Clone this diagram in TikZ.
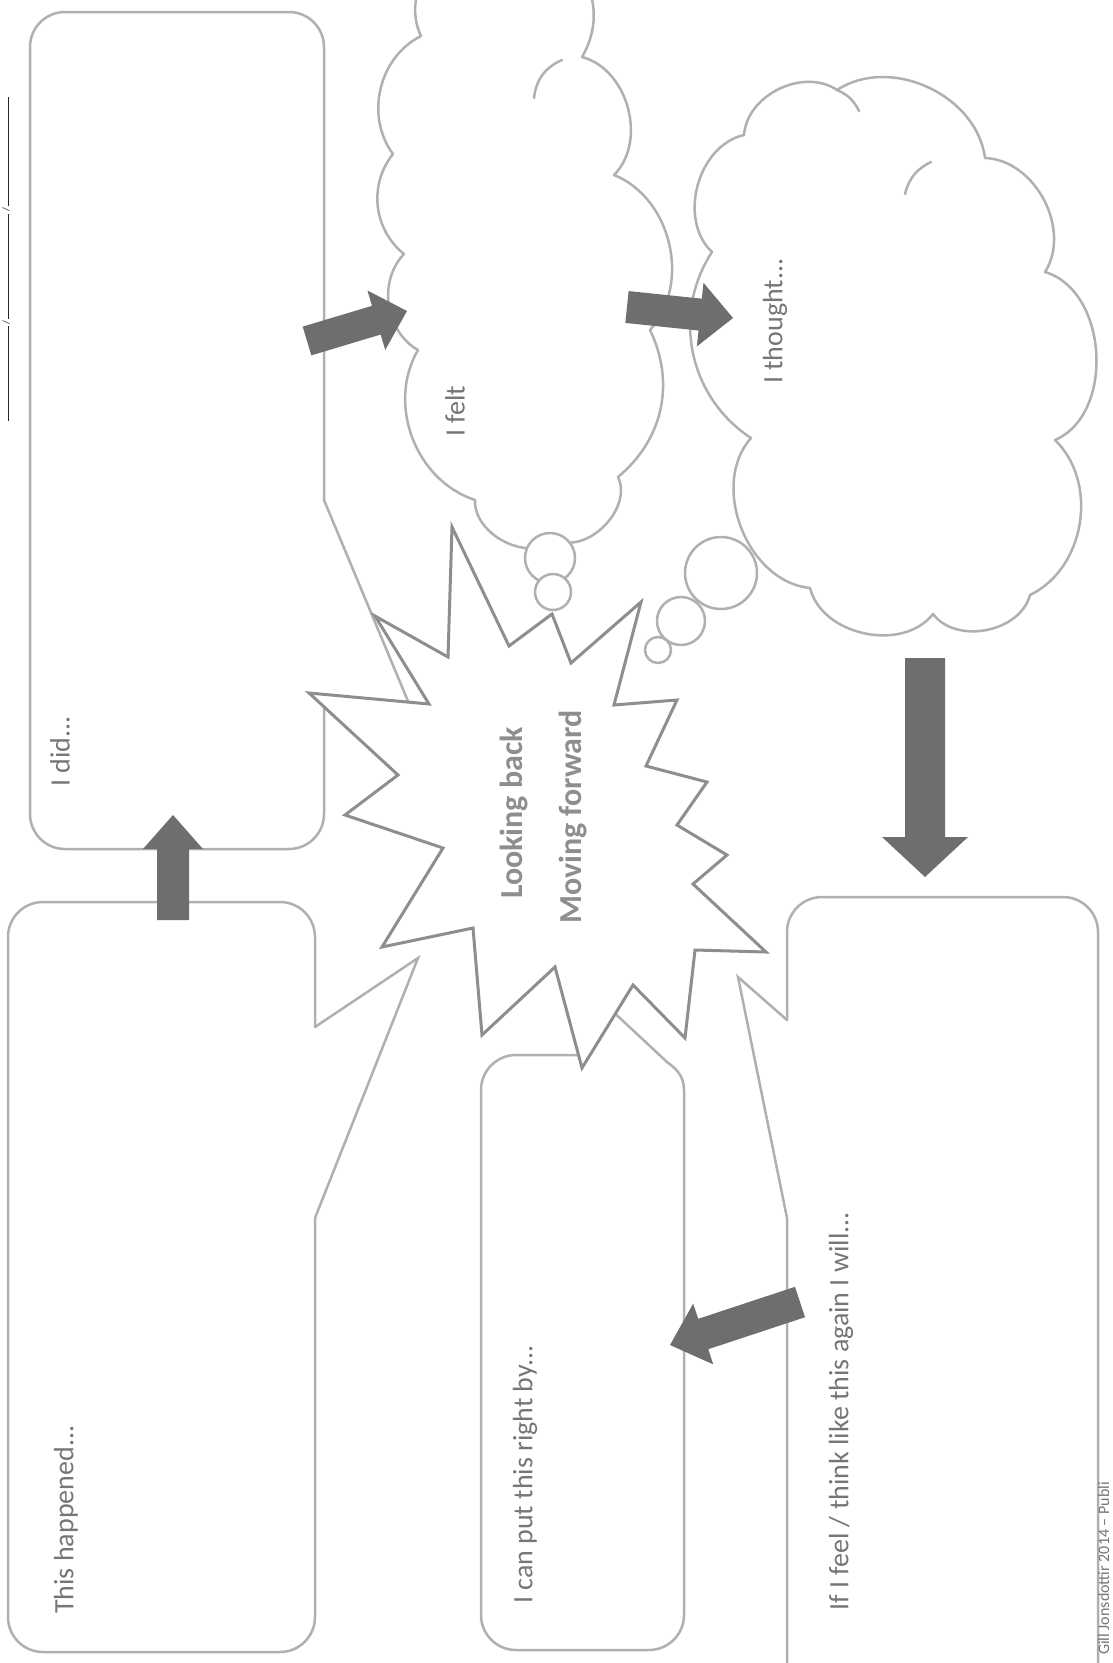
\documentclass[tikz,border=0pt]{standalone}
\usepackage{fontspec}
\setmainfont{Carlito}
\usetikzlibrary{calc}
\definecolor{lineGrey}{HTML}{B0B0B0}
\definecolor{burstGrey}{HTML}{8E8E8E}
\definecolor{textGrey}{HTML}{767676}
\definecolor{arrowGrey}{HTML}{6E6E6E}
\tikzset{
  box/.style={draw=lineGrey,line width=2.5pt,rounded corners=35pt,line cap=round,line join=round},
  tail/.style={draw=lineGrey,line width=2.5pt,line cap=round,line join=miter},
  cloud/.style={draw=lineGrey,line width=2.5pt,fill=white,line join=round},
  bubble/.style={draw=lineGrey,line width=2.5pt,fill=white},
  burst/.style={draw=burstGrey,line width=3pt,fill=white,line join=miter},
  prompt/.style={rotate=90,anchor=west,text=textGrey,inner sep=0pt,font=\fontsize{28}{34}\selectfont},
  motto/.style={rotate=90,text=burstGrey,inner sep=0pt,font=\fontsize{32}{38}\selectfont\bfseries},
  blockarrow/.style={fill=arrowGrey}
}
% #1 tail, #2 tip, #3 half shaft, #4 half head, #5 head length
\newcommand{\fatarrow}[5]{%
  \coordinate (hb) at ($(#2)!#5!(#1)$);
  \fill[blockarrow] ($(#1)!#3!90:(#2)$) -- ($(hb)!#3!90:(#2)$) -- ($(hb)!#4!90:(#2)$) -- (#2)
    -- ($(hb)!#4!-90:(#2)$) -- ($(hb)!#3!-90:(#2)$) -- ($(#1)!#3!-90:(#2)$) -- cycle;
}

\begin{document}
\begin{tikzpicture}[x=1pt,y=-1pt]
  \useasboundingbox (0,0) rectangle (1113,1663);
  \fill[white] (0,0) rectangle (1113,1663);
  \begin{scope}
    \clip (0,0) rectangle (1113,1663);

    % date blank
    \node[rotate=90,inner sep=0pt,text=black!85] (date) at (6,259)
      {\rule{95pt}{1.6pt}\,/\,\rule{105pt}{1.6pt}\,/\,\rule{109pt}{1.6pt}};

    % boxes
    \draw[box] (324,701) -- (324,849) -- (30,849) -- (30,12) -- (324,12) -- (324,500);
    \draw[tail] (324,500) -- (410,706) -- (324,701);

    \draw[box] (315,1218) -- (315,1652) -- (8,1652) -- (8,902) -- (315,902) -- (315,1027);
    \draw[tail] (315,1027) -- (418,958) -- (315,1218);

    \draw[box] (578,1055) -- (481,1055) -- (481,1650) -- (684,1650) -- (684,1090);
    \draw[tail] (684,1090) .. controls (684,1075) and (675,1068) .. (667,1062) -- (592,992) -- (578,1055);

    \draw[box] (787,1218) -- (787,1700) -- (1098,1700) -- (1098,897) -- (787,897) -- (787,1020);
    \draw[tail] (787,1020) -- (738,977) -- (787,1218);

    % clouds
    \draw[cloud] (421,36) to[bend left=45] (450,-45) -- (565,-45) to[bend left=40] (582,57)
      to[bend left=60] (614,175) to[bend left=55] (650,330) to[bend left=38] (618,477)
      to[bend left=70] (557,540) to[bend left=66] (475,500) to[bend left=51] (418,350)
      to[bend left=52] (404,254) to[bend left=45] (393,154) to[bend left=50] (421,36) -- cycle;
    \draw[tail] (534,98) to[bend left=30] (562,60);
    \draw[bubble] (550,558) circle[radius=25pt];
    \draw[bubble] (553,592) circle[radius=18pt];

    \draw[cloud] (744,135) to[bend left=60] (837,90) to[bend left=58] (985,158)
      to[bend left=60] (1045,272) to[bend left=70] (1055,440) to[bend left=55] (1030,595)
      to[bend left=64] (933,614) to[bend left=64] (810,588) to[bend left=63] (751,438)
      to[bend left=45] (712,252) to[bend left=62] (744,135) -- cycle;
    \draw[tail] (837,90) to[bend left=20] (859,111);
    \draw[tail] (931,162) to[bend right=25] (905,194);
    \draw[bubble] (721,573) circle[radius=36pt];
    \draw[bubble] (681,621) circle[radius=24pt];
    \draw[bubble] (658,650) circle[radius=13pt];

    % starburst
    \draw[burst] (452,527) -- (509,646) -- (552,614) -- (571,663) -- (641,602) -- (614,705)
      -- (677,700) -- (646,766) -- (707,782) -- (677,825) -- (727,855) -- (693,884)
      -- (766,952) -- (695,950) -- (685,1038) -- (633,985) -- (582,1068) -- (555,967)
      -- (482,1035) -- (473,928) -- (382,947) -- (443,848) -- (345,815) -- (398,775)
      -- (309,693) -- (429,704) -- (375,616) -- (448,657) -- cycle;
    \node[motto] (looking) at (514,813) {Looking back};
    \node[motto] (moving) at (573,817) {Moving forward};

    % arrows
    \coordinate (didOut) at (307,341);   \coordinate (feltIn) at (407,311);
    \coordinate (feltOut) at (627,307);  \coordinate (thoughtIn) at (733,318);
    \coordinate (thoughtOut) at (925,658); \coordinate (willIn) at (925,877);
    \coordinate (willOut) at (800,1302); \coordinate (rightIn) at (670,1345);
    \coordinate (happenedOut) at (173,920); \coordinate (didIn) at (173,815);
    \fatarrow{didOut}{feltIn}{15pt}{31pt}{32pt}
    \fatarrow{feltOut}{thoughtIn}{16pt}{32pt}{33pt}
    \fatarrow{thoughtOut}{willIn}{20pt}{43pt}{40pt}
    \fatarrow{willOut}{rightIn}{16pt}{32pt}{35pt}
    \fatarrow{happenedOut}{didIn}{16pt}{30pt}{34pt}

    % prompts
    \node[prompt] (did) at (60,787) {I did...};
    \node[prompt] (happened) at (66,1614) {This happened...};
    \node[prompt] (felt) at (455,437) {I felt};
    \node[prompt] (thought) at (775,384) {I thought...};
    \node[prompt] (putright) at (525,1604) {I can put this right by...};
    \node[prompt] (again) at (841,1611) {If I feel / think like this again I will...};
    \node[rotate=90,anchor=base west,text=textGrey,inner sep=0pt,font=\fontsize{16}{19}\selectfont]
      (credit) at (1109,1655) {Gill Jonsdottir 2014 -- Publi};
  \end{scope}
\end{tikzpicture}
\end{document}
